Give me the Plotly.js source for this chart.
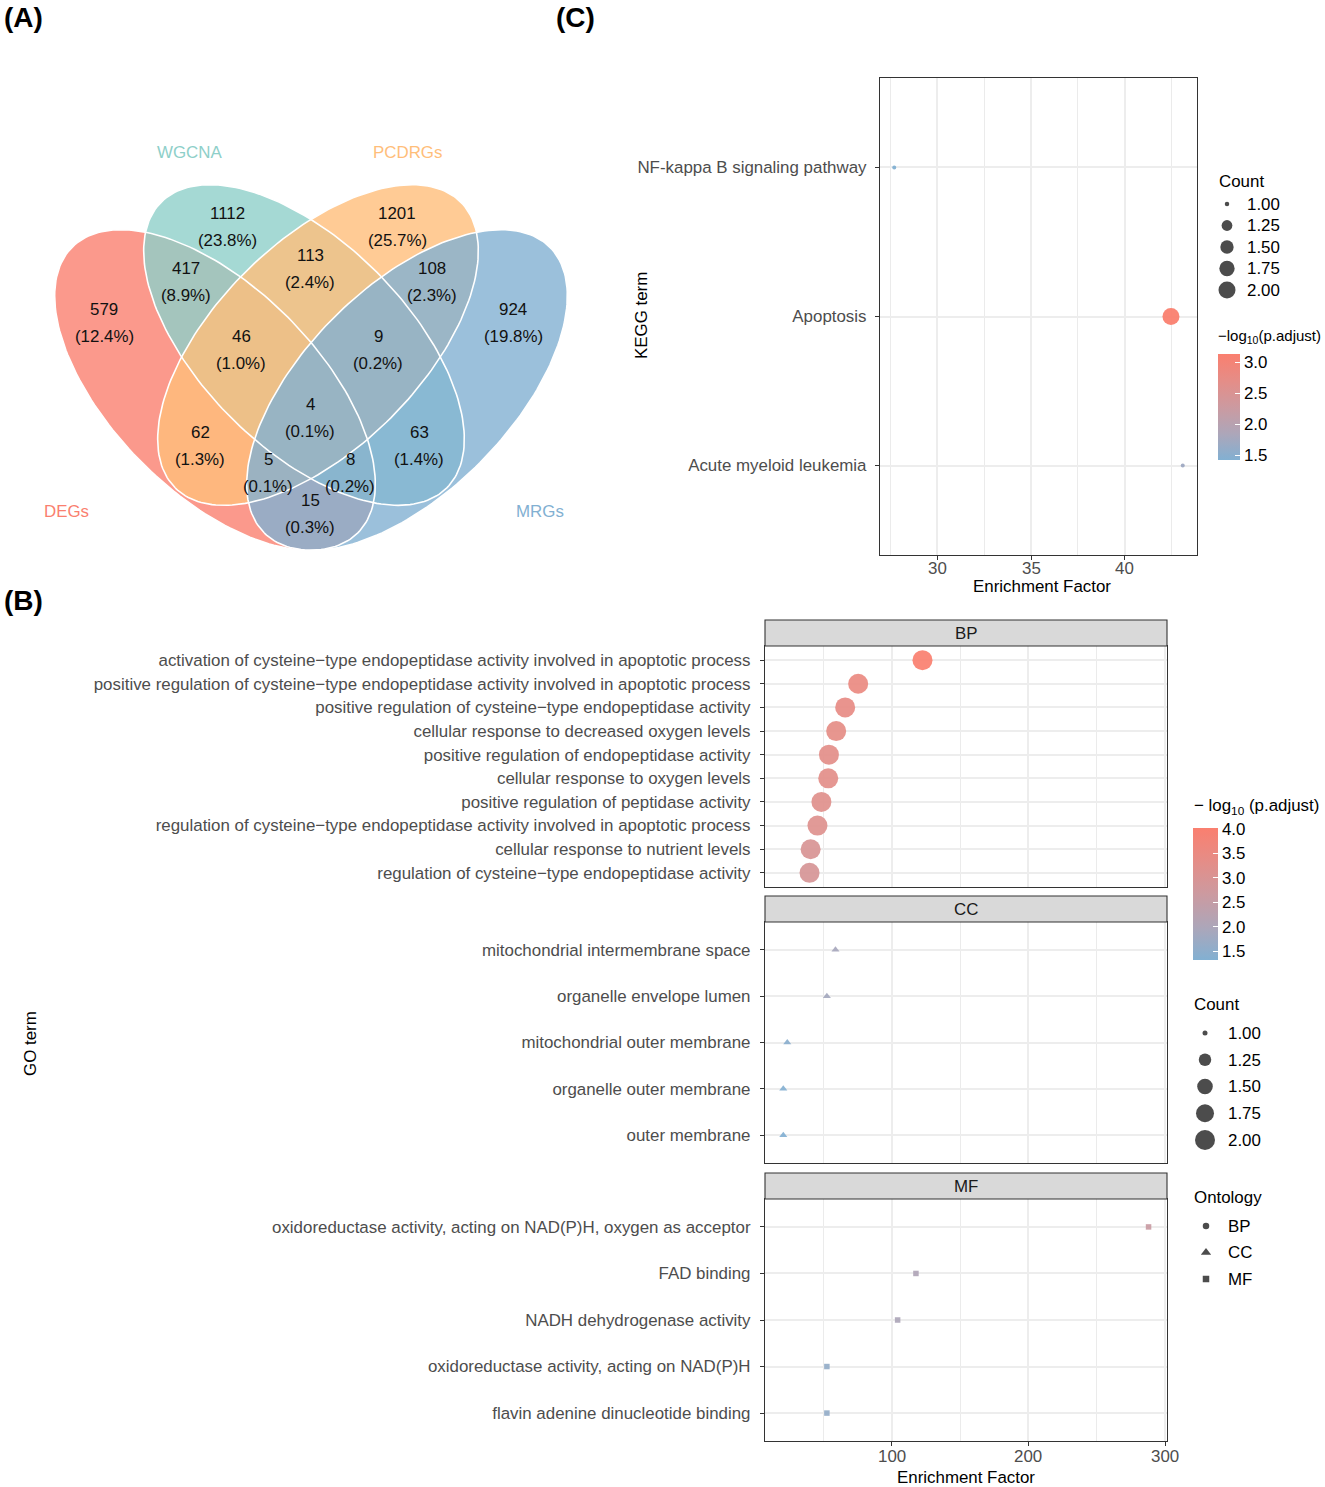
<!DOCTYPE html>
<html><head><meta charset="utf-8">
<script src="https://cdn.plot.ly/plotly-3.0.1.min.js"></script>
<style>body{margin:0;background:#fff;} #chart{width:1325px;height:1487px;}</style>
</head><body><div id="chart"></div>
<script>
// ================= DATA =================
// (A) Venn
const vennSets = ['DEGs', 'WGCNA', 'PCDRGs', 'MRGs'];
const vennColors = ['#FA7F6F', '#8ECFC9', '#FFBE7A', '#82B0D2'];
const vennRegionNames = ['DEGs', 'WGCNA', 'PCDRGs', 'MRGs', 'DEGs&WGCNA', 'WGCNA&PCDRGs', 'PCDRGs&MRGs',
  'DEGs&WGCNA&PCDRGs', 'WGCNA&PCDRGs&MRGs', 'DEGs&WGCNA&PCDRGs&MRGs', 'DEGs&PCDRGs', 'WGCNA&MRGs',
  'DEGs&PCDRGs&MRGs', 'DEGs&WGCNA&MRGs', 'DEGs&MRGs'];
const vennCounts = [579, 1112, 1201, 924, 417, 113, 108, 46, 9, 4, 62, 63, 5, 8, 15];

// (C) KEGG
const keggTerms = ['NF-kappa B signaling pathway', 'Apoptosis', 'Acute myeloid leukemia'];
const keggEF = [27.7, 42.47, 43.1];
const keggCount = [1, 2, 1];
const keggLogP = [1.42, 3.13, 1.7];

// (B) GO
const bpTerms = [
  'activation of cysteine\u2212type endopeptidase activity involved in apoptotic process',
  'positive regulation of cysteine\u2212type endopeptidase activity involved in apoptotic process',
  'positive regulation of cysteine\u2212type endopeptidase activity',
  'cellular response to decreased oxygen levels',
  'positive regulation of endopeptidase activity',
  'cellular response to oxygen levels',
  'positive regulation of peptidase activity',
  'regulation of cysteine\u2212type endopeptidase activity involved in apoptotic process',
  'cellular response to nutrient levels',
  'regulation of cysteine\u2212type endopeptidase activity'];
const bpEF = [122.4, 75.3, 65.8, 59.2, 53.9, 53.4, 48.4, 45.5, 40.5, 39.7];
const bpCount = [2, 2, 2, 2, 2, 2, 2, 2, 2, 2];
const bpLogP = [4.02, 3.5, 3.42, 3.36, 3.3, 3.28, 3.2, 3.15, 3.0, 2.95];

const ccTerms = ['mitochondrial intermembrane space', 'organelle envelope lumen',
  'mitochondrial outer membrane', 'organelle outer membrane', 'outer membrane'];
const ccEF = [58.7, 52.4, 23.4, 20.5, 20.5];
const ccCount = [1, 1, 1, 1, 1];
const ccLogP = [1.9, 1.85, 1.45, 1.35, 1.32];

const mfTerms = ['oxidoreductase activity, acting on NAD(P)H, oxygen as acceptor', 'FAD binding',
  'NADH dehydrogenase activity', 'oxidoreductase activity, acting on NAD(P)H',
  'flavin adenine dinucleotide binding'];
const mfEF = [287.9, 117.6, 104.2, 52.4, 52.4];
const mfCount = [1, 1, 1, 1, 1];
const mfLogP = [2.6, 2.05, 2.0, 1.6, 1.6];

const countLegendValues = [1.00, 1.25, 1.50, 1.75, 2.00];
const ontologies = ['BP', 'CC', 'MF'];
const keggTicks = [1.5, 2.0, 2.5, 3.0];
const goTicks = [1.5, 2.0, 2.5, 3.0, 3.5, 4.0];
const keggXTicks = [30, 35, 40];
const goXTicks = [100, 200, 300];

// ================= LAYOUT / STYLE =================
const W = 1325, H = 1487;
const FONT = 'Liberation Sans, Arial, Helvetica, sans-serif';
const FS = 16.9;
const px = v => v / W;
const py = v => 1 - v / H;
const colorscale = [[0, '#82B0D2'], [0.25, '#ADA6B9'], [0.5, '#CC9AA0'], [0.75, '#E58D87'], [1, '#FA7F6F']];
const GRID = '#EBEBEB', GRIDMAJ = '#EDEDED', BORDER = '#333333', TICKC = '#4D4D4D';

// Venn geometry (pixel space of the venn axes)
const ellipses = [
  {cx: 215, cy: 390, ang: 45}, {cx: 304, cy: 345, ang: 45},
  {cx: 318, cy: 345, ang: 135}, {cx: 407, cy: 390, ang: 135}];
const ellA = 202, ellB = 103;
const vennLabelPos = [[104, 323], [227, 227], [397, 227], [513, 323], [186, 282], [310, 269], [432, 282],
  [241, 350], [378, 350], [310, 418], [200, 446], [419, 446], [268, 473], [350, 473], [310, 514]];
const vennSetLabelPos = [[66, 511], [189, 152], [407, 152], [540, 511]];

// colorbar boxes (pixels): left, top, length, thickness
const keggBar = {x: 1218, top: 354, len: 106, thick: 22, cmin: 1.42, cmax: 3.13};
const goBar = {x: 1193, top: 828, len: 132, thick: 25, cmin: 1.32, cmax: 4.02};

function hexA(hex, a) {
  const r = parseInt(hex.slice(1, 3), 16), g = parseInt(hex.slice(3, 5), 16), b = parseInt(hex.slice(5, 7), 16);
  return `rgba(${r},${g},${b},${a})`;
}
function ellipsePts(e) {
  const xs = [], ys = [], phi = e.ang * Math.PI / 180;
  for (let i = 0; i <= 200; i++) {
    const t = 2 * Math.PI * i / 200;
    xs.push(e.cx + ellA * Math.cos(t) * Math.cos(phi) - ellB * Math.sin(t) * Math.sin(phi));
    ys.push(e.cy + ellA * Math.cos(t) * Math.sin(phi) + ellB * Math.sin(t) * Math.cos(phi));
  }
  return {xs, ys};
}
function sizeOf(c, dmin, dmax) { return dmin + (dmax - dmin) * Math.sqrt((c - 1) / (2 - 1)); }
function midpoints(t) {
  const step = t[1] - t[0], out = [t[0] - step / 2];
  t.forEach(v => out.push(v + step / 2));
  return out;
}

const traces = [];
const annotations = [];
const shapes = [];

// ---- Venn ----
ellipses.forEach((e, i) => {
  const p = ellipsePts(e);
  traces.push({type: 'scatter', mode: 'lines', x: p.xs, y: p.ys, xaxis: 'x5', yaxis: 'y5',
    fill: 'toself', fillcolor: hexA(vennColors[i], 0.8), line: {width: 0}, hoverinfo: 'skip'});
});
ellipses.forEach((e, i) => {
  const p = ellipsePts(e);
  traces.push({type: 'scatter', mode: 'lines', x: p.xs, y: p.ys, xaxis: 'x5', yaxis: 'y5',
    line: {color: '#FFFFFF', width: 1.6}, hoverinfo: 'skip'});
});
const total = vennCounts.reduce((a, b) => a + b, 0);
const vfont = {family: FONT, size: FS, color: '#111'};
vennCounts.forEach((c, i) => {
  const [x, y] = vennLabelPos[i];
  annotations.push({xref: 'x5', yref: 'y5', x: x, y: y - 13.5, text: String(c), showarrow: false,
    xanchor: 'center', yanchor: 'middle', font: vfont});
  annotations.push({xref: 'x5', yref: 'y5', x: x, y: y + 13.5, text: '(' + (100 * c / total).toFixed(1) + '%)',
    showarrow: false, xanchor: 'center', yanchor: 'middle', font: vfont});
});
vennSets.forEach((s, i) => {
  annotations.push({xref: 'x5', yref: 'y5', x: vennSetLabelPos[i][0], y: vennSetLabelPos[i][1], text: s,
    showarrow: false, xanchor: 'center', yanchor: 'middle', font: {family: FONT, size: FS, color: vennColors[i]}});
});

// ---- KEGG ----
traces.push({type: 'scatter', mode: 'markers', x: keggEF, y: keggTerms, xaxis: 'x', yaxis: 'y',
  marker: {symbol: 'circle', size: keggCount.map(c => sizeOf(c, 4, 17)), color: keggLogP,
    coloraxis: 'coloraxis', opacity: 0.95, line: {width: 0}}, hoverinfo: 'skip'});

// ---- GO ----
const goSets = [
  {terms: bpTerms, ef: bpEF, cnt: bpCount, lp: bpLogP, sym: 'circle', ax: '2', dmin: 5},
  {terms: ccTerms, ef: ccEF, cnt: ccCount, lp: ccLogP, sym: 'triangle-up', ax: '3', dmin: 7},
  {terms: mfTerms, ef: mfEF, cnt: mfCount, lp: mfLogP, sym: 'square', ax: '4', dmin: 5.5}];
goSets.forEach(g => {
  traces.push({type: 'scatter', mode: 'markers', x: g.ef, y: g.terms, xaxis: 'x' + g.ax, yaxis: 'y' + g.ax,
    marker: {symbol: g.sym, size: g.cnt.map(c => sizeOf(c, g.dmin, 20)), color: g.lp,
      coloraxis: 'coloraxis2', opacity: 0.92, line: {width: 0}}, hoverinfo: 'skip'});
});

// ---- legend keys ----
traces.push({type: 'scatter', mode: 'markers', x: countLegendValues.map(() => 0.5),
  y: countLegendValues.map(v => v.toFixed(2)), xaxis: 'x6', yaxis: 'y6',
  marker: {color: '#000', size: countLegendValues.map(c => sizeOf(c, 4.5, 17)), line: {width: 0}}, hoverinfo: 'skip'});
traces.push({type: 'scatter', mode: 'markers', x: countLegendValues.map(() => 0.5),
  y: countLegendValues.map(v => v.toFixed(2)), xaxis: 'x7', yaxis: 'y7',
  marker: {color: '#000', size: countLegendValues.map(c => sizeOf(c, 5, 20)), line: {width: 0}}, hoverinfo: 'skip'});
traces.push({type: 'scatter', mode: 'markers', x: ontologies.map(() => 0.5), y: ontologies,
  xaxis: 'x8', yaxis: 'y8',
  marker: {color: '#000', symbol: ['circle', 'triangle-up', 'square'], size: [6.5, 9, 6.5], line: {width: 0}},
  hoverinfo: 'skip'});

// ---- axes ----
function xPanel(domainPx, range, tickv, anchor, ticks) {
  return {domain: [px(domainPx[0]), px(domainPx[1])], range: range, anchor: anchor,
    tickmode: 'array', tickvals: tickv,
    showgrid: true, gridcolor: GRIDMAJ, gridwidth: 2, zeroline: false,
    minor: {tickmode: 'array', tickvals: midpoints(tickv), showgrid: true, gridcolor: GRID, gridwidth: 1, ticks: ''},
    showline: true, mirror: true, linecolor: BORDER, linewidth: 1.1,
    ticks: ticks ? 'outside' : '', ticklen: 4, tickwidth: 1, tickcolor: BORDER,
    showticklabels: false, fixedrange: true};
}
function yPanel(domainPx, terms, anchor) {
  const n = terms.length;
  return {domain: [py(domainPx[1]), py(domainPx[0])], anchor: anchor, type: 'category',
    categoryorder: 'array', categoryarray: terms.slice().reverse(), range: [-0.6, n - 0.4],
    showgrid: true, gridcolor: GRIDMAJ, gridwidth: 2, zeroline: false,
    showline: true, mirror: true, linecolor: BORDER, linewidth: 1.1,
    ticks: 'outside', ticklen: 4, tickwidth: 1, tickcolor: BORDER, ticklabelstandoff: 6,
    tickfont: {family: FONT, size: FS, color: TICKC}, fixedrange: true};
}
function legendX(domainPx, anchor) {
  return {domain: [px(domainPx[0]), px(domainPx[1])], range: [0, 1], anchor: anchor, visible: false, fixedrange: true};
}
function legendY(domainPx, cats, anchor, standoff) {
  return {domain: [py(domainPx[1]), py(domainPx[0])], anchor: anchor, type: 'category',
    categoryorder: 'array', categoryarray: cats, range: [cats.length - 0.5, -0.5], side: 'right',
    showgrid: false, zeroline: false, showline: false, ticks: '', ticklabelstandoff: standoff,
    tickfont: {family: FONT, size: FS, color: '#000'}, fixedrange: true};
}
function cbar(b, tv) {
  return {x: px(b.x), xanchor: 'left', xref: 'paper', y: py(b.top + b.len / 2), yanchor: 'middle', yref: 'paper',
    len: b.len, lenmode: 'pixels', thickness: b.thick, thicknessmode: 'pixels', xpad: 0, ypad: 0,
    outlinewidth: 0, tickmode: 'array', tickvals: tv, ticktext: tv.map(v => v.toFixed(1)),
    ticks: 'inside', ticklen: 5, tickcolor: '#fff', tickwidth: 1, ticklabelstandoff: 2,
    tickfont: {family: FONT, size: FS, color: '#000'}};
}
// left-side white ticks of the colour bars (ggplot draws them on both sides)
function barLeftTicks(b, tv) {
  tv.forEach(v => {
    const yy = b.top + b.len * (b.cmax - v) / (b.cmax - b.cmin);
    shapes.push({type: 'line', xref: 'paper', yref: 'paper', x0: px(b.x), x1: px(b.x + 5), y0: py(yy), y1: py(yy),
      line: {color: '#fff', width: 1}});
  });
}

const goX = [7.1, 301.4];
const layout = {
  width: W, height: H, margin: {l: 0, r: 0, t: 0, b: 0}, paper_bgcolor: '#fff', plot_bgcolor: '#fff',
  showlegend: false, font: {family: FONT, size: FS, color: '#000'},
  xaxis: xPanel([880, 1197], [26.94, 43.86], keggXTicks, 'y', true),
  yaxis: Object.assign(yPanel([78, 555], keggTerms, 'x'), {ticklabelstandoff: 5}),
  xaxis2: xPanel([765, 1167], goX, goXTicks, 'y2', false),
  yaxis2: yPanel([646, 887], bpTerms, 'x2'),
  xaxis3: xPanel([765, 1167], goX, goXTicks, 'y3', false),
  yaxis3: yPanel([922, 1163], ccTerms, 'x3'),
  xaxis4: xPanel([765, 1167], goX, goXTicks, 'y4', true),
  yaxis4: yPanel([1199, 1441], mfTerms, 'x4'),
  xaxis5: {domain: [0, px(620)], range: [0, 620], anchor: 'y5', visible: false, fixedrange: true},
  yaxis5: {domain: [py(570), py(130)], range: [570, 130], anchor: 'x5', visible: false, fixedrange: true},
  xaxis6: legendX([1215, 1239], 'y6'),
  yaxis6: legendY([193.25, 300.75], countLegendValues.map(v => v.toFixed(2)), 'x6', 7),
  xaxis7: legendX([1193, 1217], 'y7'),
  yaxis7: legendY([1019.6, 1153.4], countLegendValues.map(v => v.toFixed(2)), 'x7', 10),
  xaxis8: legendX([1194, 1218], 'y8'),
  yaxis8: legendY([1212.75, 1292.25], ontologies, 'x8', 9),
  coloraxis: {colorscale: colorscale, cmin: keggBar.cmin, cmax: keggBar.cmax, colorbar: cbar(keggBar, keggTicks)},
  coloraxis2: {colorscale: colorscale, cmin: goBar.cmin, cmax: goBar.cmax, colorbar: cbar(goBar, goTicks)},
  shapes: shapes, annotations: annotations
};
barLeftTicks(keggBar, keggTicks);
barLeftTicks(goBar, goTicks);

// x tick labels (placed on the axes' own scale)
keggXTicks.forEach(v => annotations.push({xref: 'x', yref: 'paper', x: v, y: py(568), text: String(v),
  showarrow: false, xanchor: 'center', yanchor: 'middle', font: {family: FONT, size: FS, color: TICKC}}));
goXTicks.forEach(v => annotations.push({xref: 'x4', yref: 'paper', x: v, y: py(1456), text: String(v),
  showarrow: false, xanchor: 'center', yanchor: 'middle', font: {family: FONT, size: FS, color: TICKC}}));

// strips
[['2', 'BP', 241], ['3', 'CC', 241], ['4', 'MF', 242]].forEach(([ax, lab, h]) => {
  shapes.push({type: 'rect', xref: 'x' + ax + ' domain', yref: 'y' + ax + ' domain', x0: 0, x1: 1,
    y0: 1, y1: 1 + 26 / h, fillcolor: '#D9D9D9', line: {color: BORDER, width: 1.1}});
  annotations.push({xref: 'x' + ax + ' domain', yref: 'y' + ax + ' domain', x: 0.5, y: 1 + 13 / h,
    xanchor: 'center', yanchor: 'middle',
    text: lab, showarrow: false, font: {family: FONT, size: FS, color: '#1A1A1A'}});
});

// titles / labels (paper)
function pa(x, y, text, opts) {
  annotations.push(Object.assign({xref: 'paper', yref: 'paper', x: px(x), y: py(y), text: text, showarrow: false,
    xanchor: 'center', yanchor: 'middle', font: {family: FONT, size: FS, color: '#000'}}, opts || {}));
}
const PF = {family: FONT, size: 28, color: '#000'};
pa(23, 18, '<b>(A)</b>', {font: PF});
pa(575, 18, '<b>(C)</b>', {font: PF});
pa(23, 600, '<b>(B)</b>', {font: PF});
pa(1042, 586, 'Enrichment Factor');
pa(642, 316, 'KEGG term', {textangle: -90});
pa(966, 1477, 'Enrichment Factor');
pa(30, 1043, 'GO term', {textangle: -90});
pa(1217, 181, 'Count', {xanchor: 'left'});
pa(1216, 337, '\u2212log<sub>10</sub>(p.adjust)', {xanchor: 'left', font: {family: FONT, size: 15, color: '#000'}});
pa(1192, 807, '\u2212 log<sub>10</sub> (p.adjust)', {xanchor: 'left'});
pa(1192, 1004, 'Count', {xanchor: 'left'});
pa(1192, 1197, 'Ontology', {xanchor: 'left'});

Plotly.newPlot('chart', traces, layout, {staticPlot: true, displayModeBar: false});
</script>
</body></html>
